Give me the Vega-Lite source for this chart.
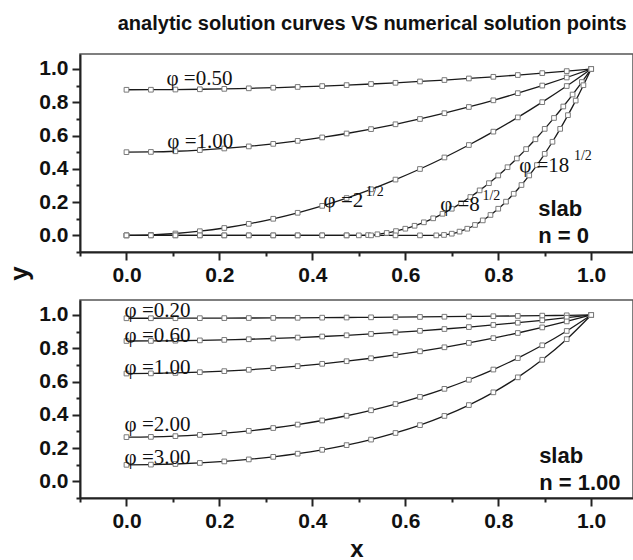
{
  "$schema": "https://vega.github.io/schema/vega-lite/v6.json",
  "background": "white",
  "padding": {"left": 5, "top": 14, "right": 0, "bottom": 5},
  "title": {"text": "analytic solution curves VS numerical solution points", "font": "Liberation Sans", "fontSize": 20, "fontWeight": "bold", "color": "#111", "anchor": "end", "dx": -7, "offset": 19},
  "config": {
    "view": {"stroke": "#555", "strokeWidth": 1.5},
    "axis": {"domainColor": "#222", "domainWidth": 2, "tickColor": "#222", "tickWidth": 2, "grid": false, "labelFont": "Liberation Sans", "labelFontWeight": "bold", "labelFontSize": 21, "labelColor": "#111", "titleFont": "Liberation Sans", "titleFontWeight": "bold", "titleFontSize": 26, "titleColor": "#111", "labelOverlap": false, "labelFlush": false, "labelBound": false, "format": ".1f"}
  },
  "datasets": {
    "top": [
      {"phi":"0.50","x":0,"y":0.875},{"phi":"0.50","x":0.0526,"y":0.8753},{"phi":"0.50","x":0.1053,"y":0.8764},{"phi":"0.50","x":0.1579,"y":0.8781},{"phi":"0.50","x":0.2105,"y":0.8805},{"phi":"0.50","x":0.2632,"y":0.8837},{"phi":"0.50","x":0.3158,"y":0.8875},{"phi":"0.50","x":0.3684,"y":0.892},{"phi":"0.50","x":0.4211,"y":0.8972},{"phi":"0.50","x":0.4737,"y":0.903},{"phi":"0.50","x":0.5263,"y":0.9096},{"phi":"0.50","x":0.5789,"y":0.9169},{"phi":"0.50","x":0.6316,"y":0.9249},{"phi":"0.50","x":0.6842,"y":0.9335},{"phi":"0.50","x":0.7368,"y":0.9429},{"phi":"0.50","x":0.7895,"y":0.9529},{"phi":"0.50","x":0.8421,"y":0.9636},{"phi":"0.50","x":0.8947,"y":0.9751},{"phi":"0.50","x":0.9474,"y":0.9872},{"phi":"0.50","x":1,"y":1},
      {"phi":"1.00","x":0,"y":0.5},{"phi":"1.00","x":0.0526,"y":0.5014},{"phi":"1.00","x":0.1053,"y":0.5055},{"phi":"1.00","x":0.1579,"y":0.5125},{"phi":"1.00","x":0.2105,"y":0.5222},{"phi":"1.00","x":0.2632,"y":0.5346},{"phi":"1.00","x":0.3158,"y":0.5499},{"phi":"1.00","x":0.3684,"y":0.5679},{"phi":"1.00","x":0.4211,"y":0.5886},{"phi":"1.00","x":0.4737,"y":0.6122},{"phi":"1.00","x":0.5263,"y":0.6385},{"phi":"1.00","x":0.5789,"y":0.6676},{"phi":"1.00","x":0.6316,"y":0.6994},{"phi":"1.00","x":0.6842,"y":0.7341},{"phi":"1.00","x":0.7368,"y":0.7715},{"phi":"1.00","x":0.7895,"y":0.8116},{"phi":"1.00","x":0.8421,"y":0.8546},{"phi":"1.00","x":0.8947,"y":0.9003},{"phi":"1.00","x":0.9474,"y":0.9488},{"phi":"1.00","x":1,"y":1},
      {"phi":"r2","x":0,"y":0},{"phi":"r2","x":0.0526,"y":0.0028},{"phi":"r2","x":0.1053,"y":0.0111},{"phi":"r2","x":0.1579,"y":0.0249},{"phi":"r2","x":0.2105,"y":0.0443},{"phi":"r2","x":0.2632,"y":0.0693},{"phi":"r2","x":0.3158,"y":0.0997},{"phi":"r2","x":0.3684,"y":0.1357},{"phi":"r2","x":0.4211,"y":0.1773},{"phi":"r2","x":0.4737,"y":0.2244},{"phi":"r2","x":0.5263,"y":0.277},{"phi":"r2","x":0.5789,"y":0.3352},{"phi":"r2","x":0.6316,"y":0.3989},{"phi":"r2","x":0.6842,"y":0.4681},{"phi":"r2","x":0.7368,"y":0.5429},{"phi":"r2","x":0.7895,"y":0.6233},{"phi":"r2","x":0.8421,"y":0.7091},{"phi":"r2","x":0.8947,"y":0.8006},{"phi":"r2","x":0.9474,"y":0.8975},{"phi":"r2","x":1,"y":1},
      {"phi":"r8","x":0,"y":0},{"phi":"r8","x":0.0526,"y":0},{"phi":"r8","x":0.1053,"y":0},{"phi":"r8","x":0.1579,"y":0},{"phi":"r8","x":0.2105,"y":0},{"phi":"r8","x":0.2632,"y":0},{"phi":"r8","x":0.3158,"y":0},{"phi":"r8","x":0.3684,"y":0},{"phi":"r8","x":0.4211,"y":0},{"phi":"r8","x":0.4737,"y":0},
      {"phi":"r8","x":0.5,"y":0},{"phi":"r8","x":0.52,"y":0.0016},{"phi":"r8","x":0.54,"y":0.0064},{"phi":"r8","x":0.56,"y":0.0144},{"phi":"r8","x":0.58,"y":0.0256},{"phi":"r8","x":0.6,"y":0.04},{"phi":"r8","x":0.62,"y":0.0576},{"phi":"r8","x":0.64,"y":0.0784},{"phi":"r8","x":0.66,"y":0.1024},{"phi":"r8","x":0.68,"y":0.1296},{"phi":"r8","x":0.7,"y":0.16},{"phi":"r8","x":0.72,"y":0.1936},{"phi":"r8","x":0.74,"y":0.2304},{"phi":"r8","x":0.76,"y":0.2704},{"phi":"r8","x":0.78,"y":0.3136},{"phi":"r8","x":0.8,"y":0.36},{"phi":"r8","x":0.82,"y":0.4096},{"phi":"r8","x":0.84,"y":0.4624},{"phi":"r8","x":0.86,"y":0.5184},{"phi":"r8","x":0.88,"y":0.5776},{"phi":"r8","x":0.9,"y":0.64},{"phi":"r8","x":0.92,"y":0.7056},{"phi":"r8","x":0.94,"y":0.7744},{"phi":"r8","x":0.96,"y":0.8464},{"phi":"r8","x":0.98,"y":0.9216},{"phi":"r8","x":1,"y":1},
      {"phi":"r18","x":0,"y":0},{"phi":"r18","x":0.0526,"y":0},{"phi":"r18","x":0.1053,"y":0},{"phi":"r18","x":0.1579,"y":0},{"phi":"r18","x":0.2105,"y":0},{"phi":"r18","x":0.2632,"y":0},{"phi":"r18","x":0.3158,"y":0},{"phi":"r18","x":0.3684,"y":0},{"phi":"r18","x":0.4211,"y":0},{"phi":"r18","x":0.4737,"y":0},{"phi":"r18","x":0.5263,"y":0},{"phi":"r18","x":0.5789,"y":0},{"phi":"r18","x":0.6316,"y":0},
      {"phi":"r18","x":0.6667,"y":0},{"phi":"r18","x":0.6833,"y":0.0025},{"phi":"r18","x":0.7,"y":0.01},{"phi":"r18","x":0.7167,"y":0.0225},{"phi":"r18","x":0.7333,"y":0.04},{"phi":"r18","x":0.75,"y":0.0625},{"phi":"r18","x":0.7667,"y":0.09},{"phi":"r18","x":0.7833,"y":0.1225},{"phi":"r18","x":0.8,"y":0.16},{"phi":"r18","x":0.8167,"y":0.2025},{"phi":"r18","x":0.8333,"y":0.25},{"phi":"r18","x":0.85,"y":0.3025},{"phi":"r18","x":0.8667,"y":0.36},{"phi":"r18","x":0.8833,"y":0.4225},{"phi":"r18","x":0.9,"y":0.49},{"phi":"r18","x":0.9167,"y":0.5625},{"phi":"r18","x":0.9333,"y":0.64},{"phi":"r18","x":0.95,"y":0.7225},{"phi":"r18","x":0.9667,"y":0.81},{"phi":"r18","x":0.9833,"y":0.9025},{"phi":"r18","x":1,"y":1}
    ],
    "bottom": [
      {"phi":"0.20","x":0,"y":0.9803},{"phi":"0.20","x":0.0526,"y":0.9804},{"phi":"0.20","x":0.1053,"y":0.9806},{"phi":"0.20","x":0.1579,"y":0.9808},{"phi":"0.20","x":0.2105,"y":0.9812},{"phi":"0.20","x":0.2632,"y":0.9817},{"phi":"0.20","x":0.3158,"y":0.9823},{"phi":"0.20","x":0.3684,"y":0.983},{"phi":"0.20","x":0.4211,"y":0.9838},{"phi":"0.20","x":0.4737,"y":0.9847},{"phi":"0.20","x":0.5263,"y":0.9858},{"phi":"0.20","x":0.5789,"y":0.9869},{"phi":"0.20","x":0.6316,"y":0.9882},{"phi":"0.20","x":0.6842,"y":0.9895},{"phi":"0.20","x":0.7368,"y":0.991},{"phi":"0.20","x":0.7895,"y":0.9926},{"phi":"0.20","x":0.8421,"y":0.9942},{"phi":"0.20","x":0.8947,"y":0.996},{"phi":"0.20","x":0.9474,"y":0.9979},{"phi":"0.20","x":1,"y":1},
      {"phi":"0.60","x":0,"y":0.8436},{"phi":"0.60","x":0.0526,"y":0.844},{"phi":"0.60","x":0.1053,"y":0.8452},{"phi":"0.60","x":0.1579,"y":0.8473},{"phi":"0.60","x":0.2105,"y":0.8503},{"phi":"0.60","x":0.2632,"y":0.8541},{"phi":"0.60","x":0.3158,"y":0.8587},{"phi":"0.60","x":0.3684,"y":0.8642},{"phi":"0.60","x":0.4211,"y":0.8706},{"phi":"0.60","x":0.4737,"y":0.8779},{"phi":"0.60","x":0.5263,"y":0.886},{"phi":"0.60","x":0.5789,"y":0.895},{"phi":"0.60","x":0.6316,"y":0.9048},{"phi":"0.60","x":0.6842,"y":0.9156},{"phi":"0.60","x":0.7368,"y":0.9273},{"phi":"0.60","x":0.7895,"y":0.94},{"phi":"0.60","x":0.8421,"y":0.9535},{"phi":"0.60","x":0.8947,"y":0.9681},{"phi":"0.60","x":0.9474,"y":0.9835},{"phi":"0.60","x":1,"y":1},
      {"phi":"1.00","x":0,"y":0.6481},{"phi":"1.00","x":0.0526,"y":0.649},{"phi":"1.00","x":0.1053,"y":0.6516},{"phi":"1.00","x":0.1579,"y":0.6561},{"phi":"1.00","x":0.2105,"y":0.6625},{"phi":"1.00","x":0.2632,"y":0.6706},{"phi":"1.00","x":0.3158,"y":0.6806},{"phi":"1.00","x":0.3684,"y":0.6925},{"phi":"1.00","x":0.4211,"y":0.7064},{"phi":"1.00","x":0.4737,"y":0.7221},{"phi":"1.00","x":0.5263,"y":0.7399},{"phi":"1.00","x":0.5789,"y":0.7597},{"phi":"1.00","x":0.6316,"y":0.7817},{"phi":"1.00","x":0.6842,"y":0.8058},{"phi":"1.00","x":0.7368,"y":0.8321},{"phi":"1.00","x":0.7895,"y":0.8607},{"phi":"1.00","x":0.8421,"y":0.8917},{"phi":"1.00","x":0.8947,"y":0.9252},{"phi":"1.00","x":0.9474,"y":0.9613},{"phi":"1.00","x":1,"y":1},
      {"phi":"2.00","x":0,"y":0.2658},{"phi":"2.00","x":0.0526,"y":0.2673},{"phi":"2.00","x":0.1053,"y":0.2717},{"phi":"2.00","x":0.1579,"y":0.2792},{"phi":"2.00","x":0.2105,"y":0.2897},{"phi":"2.00","x":0.2632,"y":0.3035},{"phi":"2.00","x":0.3158,"y":0.3206},{"phi":"2.00","x":0.3684,"y":0.3413},{"phi":"2.00","x":0.4211,"y":0.3658},{"phi":"2.00","x":0.4737,"y":0.3943},{"phi":"2.00","x":0.5263,"y":0.4272},{"phi":"2.00","x":0.5789,"y":0.4648},{"phi":"2.00","x":0.6316,"y":0.5076},{"phi":"2.00","x":0.6842,"y":0.556},{"phi":"2.00","x":0.7368,"y":0.6106},{"phi":"2.00","x":0.7895,"y":0.672},{"phi":"2.00","x":0.8421,"y":0.7408},{"phi":"2.00","x":0.8947,"y":0.8178},{"phi":"2.00","x":0.9474,"y":0.9039},{"phi":"2.00","x":1,"y":1},
      {"phi":"3.00","x":0,"y":0.0993},{"phi":"3.00","x":0.0526,"y":0.1006},{"phi":"3.00","x":0.1053,"y":0.1043},{"phi":"3.00","x":0.1579,"y":0.1107},{"phi":"3.00","x":0.2105,"y":0.1198},{"phi":"3.00","x":0.2632,"y":0.1319},{"phi":"3.00","x":0.3158,"y":0.1473},{"phi":"3.00","x":0.3684,"y":0.1664},{"phi":"3.00","x":0.4211,"y":0.1897},{"phi":"3.00","x":0.4737,"y":0.2177},{"phi":"3.00","x":0.5263,"y":0.2511},{"phi":"3.00","x":0.5789,"y":0.2908},{"phi":"3.00","x":0.6316,"y":0.3378},{"phi":"3.00","x":0.6842,"y":0.3932},{"phi":"3.00","x":0.7368,"y":0.4584},{"phi":"3.00","x":0.7895,"y":0.5351},{"phi":"3.00","x":0.8421,"y":0.6252},{"phi":"3.00","x":0.8947,"y":0.7308},{"phi":"3.00","x":0.9474,"y":0.8547},{"phi":"3.00","x":1,"y":1}
    ],
    "topLabels": [
      {"x":0.086,"y":0.904,"text":"φ =0.50"},{"x":0.088,"y":0.524,"text":"φ =1.00"},{"x":0.424,"y":0.169,"text":"φ =2"},{"x":0.675,"y":0.145,"text":"φ =8"},{"x":0.845,"y":0.38,"text":"φ =18"}
    ],
    "topSups": [
      {"x":0.515,"y":0.235,"text":"1/2"},{"x":0.766,"y":0.211,"text":"1/2"},{"x":0.963,"y":0.452,"text":"1/2"}
    ],
    "topSlab": [
      {"x":0.886,"y":0.114,"text":"slab"},{"x":0.886,"y":-0.048,"text":"n = 0"}
    ],
    "bottomLabels": [
      {"x":-0.004,"y":0.988,"text":"φ =0.20"},{"x":-0.004,"y":0.837,"text":"φ =0.60"},{"x":-0.004,"y":0.645,"text":"φ =1.00"},{"x":-0.004,"y":0.301,"text":"φ =2.00"},{"x":-0.004,"y":0.102,"text":"φ =3.00"}
    ],
    "bottomSlab": [
      {"x":0.888,"y":0.108,"text":"slab"},{"x":0.888,"y":-0.054,"text":"n = 1.00"}
    ]
  },
  "spacing": 48,
  "bounds": "flush",
  "vconcat": [
    {
      "width": 553, "height": 198,
      "resolve": {"axis": {"x": "independent", "y": "independent"}},
      "layer": [
        {"data": {"name": "top"}, "mark": {"type": "line", "color": "#1a1a1a", "strokeWidth": 1.3, "interpolate": "monotone"},
         "encoding": {
           "x": {"field": "x", "type": "quantitative", "scale": {"domain": [-0.1, 1.09], "nice": false, "zero": false},
                 "axis": {"orient": "bottom", "values": [0,0.2,0.4,0.6,0.8,1.0], "title": null, "tickSize": 8, "labelPadding": 4}},
           "y": {"field": "y", "type": "quantitative", "scale": {"domain": [-0.1, 1.09], "nice": false, "zero": false},
                 "axis": {"orient": "left", "values": [0,0.2,0.4,0.6,0.8,1.0], "title": "y", "titleX": -53, "titleY": 219, "titleBaseline": "alphabetic", "titleAlign": "center", "titleAngle": -90, "tickSize": 8, "labelPadding": 4}},
           "detail": {"field": "phi"}
         }},
        {"data": {"name": "top"}, "mark": {"type": "point", "shape": "square", "size": 22, "fill": "white", "stroke": "#7a7a7a", "strokeWidth": 1, "opacity": 1},
         "encoding": {
           "x": {"field": "x", "type": "quantitative", "axis": {"orient": "bottom", "values": [-0.1,0.1,0.3,0.5,0.7,0.9], "title": null, "labels": false, "domain": false, "tickSize": 4}},
           "y": {"field": "y", "type": "quantitative", "axis": {"orient": "left", "values": [-0.1,0.1,0.3,0.5,0.7,0.9], "title": null, "labels": false, "domain": false, "tickSize": 4}}}},
        {"data": {"name": "topLabels"}, "mark": {"type": "text", "font": "Liberation Serif", "fontSize": 21, "align": "left", "baseline": "alphabetic", "color": "#111"},
         "encoding": {"x": {"field": "x", "type": "quantitative", "axis": null}, "y": {"field": "y", "type": "quantitative", "axis": null}, "text": {"field": "text"}}},
        {"data": {"name": "topSups"}, "mark": {"type": "text", "font": "Liberation Serif", "fontSize": 14, "align": "left", "baseline": "alphabetic", "color": "#111"},
         "encoding": {"x": {"field": "x", "type": "quantitative", "axis": null}, "y": {"field": "y", "type": "quantitative", "axis": null}, "text": {"field": "text"}}},
        {"data": {"name": "topSlab"}, "mark": {"type": "text", "font": "Liberation Sans", "fontWeight": "bold", "fontSize": 22, "align": "left", "baseline": "alphabetic", "color": "#111"},
         "encoding": {"x": {"field": "x", "type": "quantitative", "axis": null}, "y": {"field": "y", "type": "quantitative", "axis": null}, "text": {"field": "text"}}}
      ]
    },
    {
      "width": 553, "height": 198,
      "resolve": {"axis": {"x": "independent", "y": "independent"}},
      "layer": [
        {"data": {"name": "bottom"}, "mark": {"type": "line", "color": "#1a1a1a", "strokeWidth": 1.3, "interpolate": "monotone"},
         "encoding": {
           "x": {"field": "x", "type": "quantitative", "scale": {"domain": [-0.1, 1.09], "nice": false, "zero": false},
                 "axis": {"orient": "bottom", "values": [0,0.2,0.4,0.6,0.8,1.0], "title": "x", "titleFontSize": 24, "titleY": 58, "titleBaseline": "alphabetic", "tickSize": 8, "labelPadding": 4}},
           "y": {"field": "y", "type": "quantitative", "scale": {"domain": [-0.1, 1.09], "nice": false, "zero": false},
                 "axis": {"orient": "left", "values": [0,0.2,0.4,0.6,0.8,1.0], "title": null, "tickSize": 8, "labelPadding": 4}},
           "detail": {"field": "phi"}
         }},
        {"data": {"name": "bottom"}, "mark": {"type": "point", "shape": "square", "size": 22, "fill": "white", "stroke": "#7a7a7a", "strokeWidth": 1, "opacity": 1},
         "encoding": {
           "x": {"field": "x", "type": "quantitative", "axis": {"orient": "bottom", "values": [-0.1,0.1,0.3,0.5,0.7,0.9], "title": null, "labels": false, "domain": false, "tickSize": 4}},
           "y": {"field": "y", "type": "quantitative", "axis": {"orient": "left", "values": [-0.1,0.1,0.3,0.5,0.7,0.9], "title": null, "labels": false, "domain": false, "tickSize": 4}}}},
        {"data": {"name": "bottomLabels"}, "mark": {"type": "text", "font": "Liberation Serif", "fontSize": 21, "align": "left", "baseline": "alphabetic", "color": "#111"},
         "encoding": {"x": {"field": "x", "type": "quantitative", "axis": null}, "y": {"field": "y", "type": "quantitative", "axis": null}, "text": {"field": "text"}}},
        {"data": {"name": "bottomSlab"}, "mark": {"type": "text", "font": "Liberation Sans", "fontWeight": "bold", "fontSize": 22, "align": "left", "baseline": "alphabetic", "color": "#111"},
         "encoding": {"x": {"field": "x", "type": "quantitative", "axis": null}, "y": {"field": "y", "type": "quantitative", "axis": null}, "text": {"field": "text"}}}
      ]
    }
  ]
}
